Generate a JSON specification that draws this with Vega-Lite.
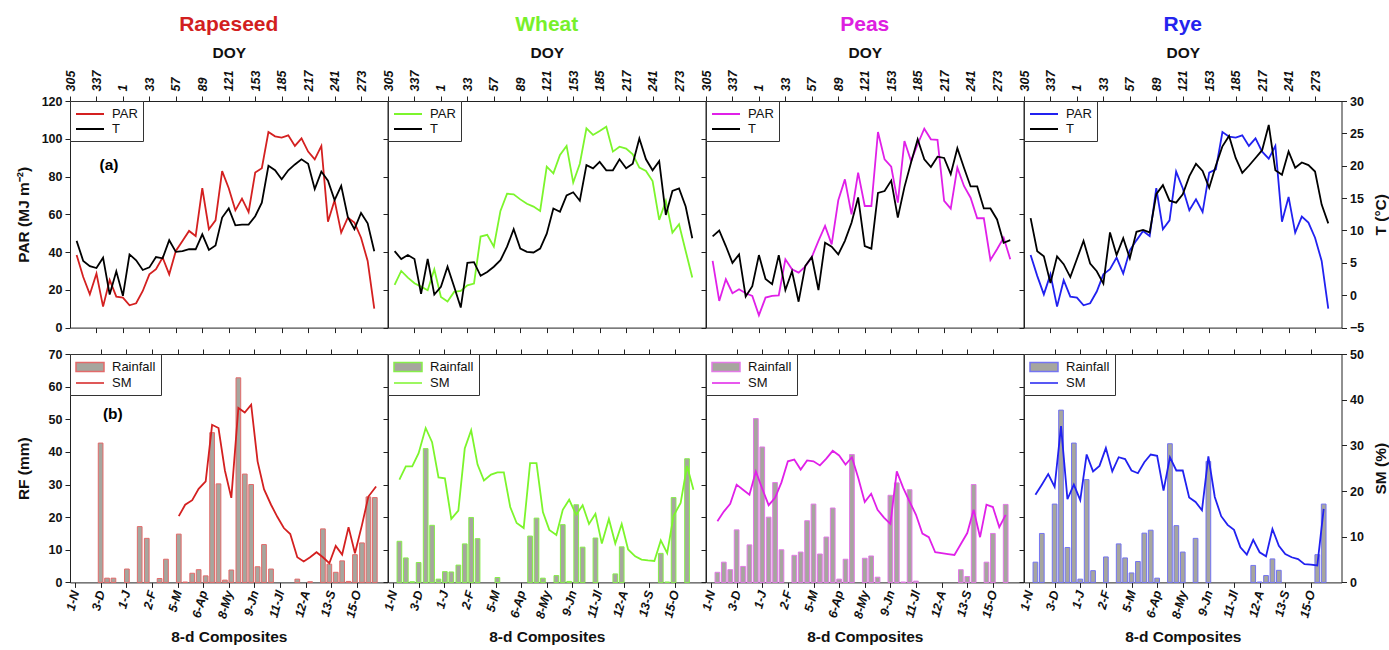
{
"$schema": "https://vega.github.io/schema/vega-lite/v6.json",
"padding": {"left": 15, "top": 13, "right": 0, "bottom": 0},
"config": {
  "font": "Liberation Sans",
  "view": {"stroke": "#222", "strokeWidth": 1},
  "axis": {"grid": false, "domain": false, "tickColor": "#222", "tickSize": 5, "labelPadding": 3, "labelOverlap": false, "labelFont": "Liberation Sans", "labelFontWeight": "bold", "labelFontSize": 12.5, "labelColor": "#111", "titleFont": "Liberation Sans", "titleFontWeight": "bold", "titleFontSize": 15.5, "titleColor": "#111"},
  "legend": {"orient": "top-left", "offset": 0, "strokeColor": "#333", "fillColor": "white", "padding": 5, "labelFont": "Liberation Sans", "labelFontSize": 13, "labelFontWeight": "normal", "labelColor": "#111", "rowPadding": 0, "labelOffset": 14, "symbolOffset": 7, "symbolSize": 196, "symbolStrokeWidth": 2},
  "title": {"font": "Liberation Sans", "fontWeight": "bold", "fontSize": 21, "anchor": "middle", "offset": 10}
},
"datasets": {
"top": [
{"crop":"Rapeseed","i":1,"par":38.5,"t":8.4},{"crop":"Rapeseed","i":2,"par":26.8,"t":5.3},{"crop":"Rapeseed","i":3,"par":17.6,"t":4.5},{"crop":"Rapeseed","i":4,"par":28.6,"t":4.2},{"crop":"Rapeseed","i":5,"par":11.1,"t":5.8},{"crop":"Rapeseed","i":6,"par":25.2,"t":0.1},{"crop":"Rapeseed","i":7,"par":16.4,"t":3.7},{"crop":"Rapeseed","i":8,"par":15.9,"t":-0.1},{"crop":"Rapeseed","i":9,"par":11.8,"t":6.3},{"crop":"Rapeseed","i":10,"par":12.9,"t":5.4},{"crop":"Rapeseed","i":11,"par":19.4,"t":3.9},{"crop":"Rapeseed","i":12,"par":28.2,"t":4.3},{"crop":"Rapeseed","i":13,"par":30.9,"t":5.9},{"crop":"Rapeseed","i":14,"par":37.1,"t":5.7},{"crop":"Rapeseed","i":15,"par":28.2,"t":8.5},{"crop":"Rapeseed","i":16,"par":40.6,"t":6.7},{"crop":"Rapeseed","i":17,"par":45.9,"t":6.8},{"crop":"Rapeseed","i":18,"par":51.2,"t":7.1},{"crop":"Rapeseed","i":19,"par":48.5,"t":7.1},{"crop":"Rapeseed","i":20,"par":73.8,"t":9.4},{"crop":"Rapeseed","i":21,"par":52.1,"t":7.0},{"crop":"Rapeseed","i":22,"par":56.8,"t":7.7},{"crop":"Rapeseed","i":23,"par":82.9,"t":12.0},{"crop":"Rapeseed","i":24,"par":73.8,"t":13.4},{"crop":"Rapeseed","i":25,"par":62.1,"t":10.8},{"crop":"Rapeseed","i":26,"par":68.3,"t":10.9},{"crop":"Rapeseed","i":27,"par":61.2,"t":10.9},{"crop":"Rapeseed","i":28,"par":82.1,"t":12.2},{"crop":"Rapeseed","i":29,"par":84.4,"t":14.3},{"crop":"Rapeseed","i":30,"par":103.6,"t":20.0},{"crop":"Rapeseed","i":31,"par":101.3,"t":19.3},{"crop":"Rapeseed","i":32,"par":100.6,"t":17.9},{"crop":"Rapeseed","i":33,"par":101.8,"t":19.3},{"crop":"Rapeseed","i":34,"par":96.2,"t":20.2},{"crop":"Rapeseed","i":35,"par":100.2,"t":21.0},{"crop":"Rapeseed","i":36,"par":93.2,"t":20.3},{"crop":"Rapeseed","i":37,"par":89.1,"t":16.4},{"crop":"Rapeseed","i":38,"par":96.2,"t":19.1},{"crop":"Rapeseed","i":39,"par":56.1,"t":17.7},{"crop":"Rapeseed","i":40,"par":67.4,"t":14.7},{"crop":"Rapeseed","i":41,"par":50.3,"t":16.9},{"crop":"Rapeseed","i":42,"par":58.2,"t":12.1},{"crop":"Rapeseed","i":43,"par":55.6,"t":10.2},{"crop":"Rapeseed","i":44,"par":47.6,"t":12.7},{"crop":"Rapeseed","i":45,"par":35.3,"t":11.1},{"crop":"Rapeseed","i":46,"par":10.1,"t":6.8},
{"crop":"Wheat","i":1,"par":22.6,"t":6.8},{"crop":"Wheat","i":2,"par":30.0,"t":5.6},{"crop":"Wheat","i":3,"par":26.5,"t":6.2},{"crop":"Wheat","i":4,"par":23.5,"t":5.6},{"crop":"Wheat","i":5,"par":21.7,"t":0.2},{"crop":"Wheat","i":6,"par":19.8,"t":5.6},{"crop":"Wheat","i":7,"par":30.9,"t":0.1},{"crop":"Wheat","i":8,"par":16.2,"t":1.3},{"crop":"Wheat","i":9,"par":13.8,"t":4.4},{"crop":"Wheat","i":10,"par":18.9,"t":1.3},{"crop":"Wheat","i":11,"par":19.4,"t":-1.9},{"crop":"Wheat","i":12,"par":22.4,"t":5.0},{"crop":"Wheat","i":13,"par":23.3,"t":5.1},{"crop":"Wheat","i":14,"par":48.2,"t":3.0},{"crop":"Wheat","i":15,"par":49.1,"t":3.6},{"crop":"Wheat","i":16,"par":42.9,"t":4.4},{"crop":"Wheat","i":17,"par":61.8,"t":5.4},{"crop":"Wheat","i":18,"par":70.9,"t":7.5},{"crop":"Wheat","i":19,"par":70.6,"t":10.2},{"crop":"Wheat","i":20,"par":67.9,"t":7.2},{"crop":"Wheat","i":21,"par":65.6,"t":6.7},{"crop":"Wheat","i":22,"par":64.1,"t":6.6},{"crop":"Wheat","i":23,"par":61.8,"t":7.2},{"crop":"Wheat","i":24,"par":85.2,"t":9.5},{"crop":"Wheat","i":25,"par":81.7,"t":13.4},{"crop":"Wheat","i":26,"par":91.4,"t":12.9},{"crop":"Wheat","i":27,"par":96.2,"t":15.4},{"crop":"Wheat","i":28,"par":76.8,"t":15.9},{"crop":"Wheat","i":29,"par":86.8,"t":14.6},{"crop":"Wheat","i":30,"par":105.5,"t":20.1},{"crop":"Wheat","i":31,"par":102.0,"t":19.6},{"crop":"Wheat","i":32,"par":104.1,"t":20.6},{"crop":"Wheat","i":33,"par":106.4,"t":19.3},{"crop":"Wheat","i":34,"par":93.2,"t":19.3},{"crop":"Wheat","i":35,"par":95.8,"t":21.0},{"crop":"Wheat","i":36,"par":94.8,"t":19.6},{"crop":"Wheat","i":37,"par":91.8,"t":20.3},{"crop":"Wheat","i":38,"par":84.7,"t":24.2},{"crop":"Wheat","i":39,"par":82.9,"t":21.0},{"crop":"Wheat","i":40,"par":77.6,"t":19.3},{"crop":"Wheat","i":41,"par":57.0,"t":20.7},{"crop":"Wheat","i":42,"par":67.1,"t":12.4},{"crop":"Wheat","i":43,"par":50.3,"t":16.1},{"crop":"Wheat","i":44,"par":54.7,"t":16.5},{"crop":"Wheat","i":45,"par":40.6,"t":13.7},{"crop":"Wheat","i":46,"par":26.5,"t":8.8},
{"crop":"Peas","i":1,"par":35.3,"t":9.1},{"crop":"Peas","i":2,"par":14.1,"t":10.0},{"crop":"Peas","i":3,"par":25.6,"t":7.6},{"crop":"Peas","i":4,"par":18.2,"t":5.0},{"crop":"Peas","i":5,"par":20.3,"t":6.3},{"crop":"Peas","i":6,"par":18.2,"t":-0.2},{"crop":"Peas","i":7,"par":16.8,"t":1.4},{"crop":"Peas","i":8,"par":6.5,"t":6.2},{"crop":"Peas","i":9,"par":15.9,"t":2.5},{"crop":"Peas","i":10,"par":16.8,"t":1.7},{"crop":"Peas","i":11,"par":17.1,"t":6.2},{"crop":"Peas","i":12,"par":36.2,"t":0.8},{"crop":"Peas","i":13,"par":30.9,"t":3.7},{"crop":"Peas","i":14,"par":29.1,"t":-1.0},{"crop":"Peas","i":15,"par":32.3,"t":4.5},{"crop":"Peas","i":16,"par":37.4,"t":5.9},{"crop":"Peas","i":17,"par":45.9,"t":0.8},{"crop":"Peas","i":18,"par":53.8,"t":8.1},{"crop":"Peas","i":19,"par":44.1,"t":7.5},{"crop":"Peas","i":20,"par":67.4,"t":6.3},{"crop":"Peas","i":21,"par":78.5,"t":8.4},{"crop":"Peas","i":22,"par":60.0,"t":11.2},{"crop":"Peas","i":23,"par":82.1,"t":15.1},{"crop":"Peas","i":24,"par":64.4,"t":7.6},{"crop":"Peas","i":25,"par":64.4,"t":7.2},{"crop":"Peas","i":26,"par":103.6,"t":15.8},{"crop":"Peas","i":27,"par":89.1,"t":16.1},{"crop":"Peas","i":28,"par":85.2,"t":17.7},{"crop":"Peas","i":29,"par":66.2,"t":12.0},{"crop":"Peas","i":30,"par":98.8,"t":16.7},{"crop":"Peas","i":31,"par":88.2,"t":20.5},{"crop":"Peas","i":32,"par":97.1,"t":24.1},{"crop":"Peas","i":33,"par":105.3,"t":21.0},{"crop":"Peas","i":34,"par":99.7,"t":19.8},{"crop":"Peas","i":35,"par":99.4,"t":21.4},{"crop":"Peas","i":36,"par":67.1,"t":21.2},{"crop":"Peas","i":37,"par":63.0,"t":18.7},{"crop":"Peas","i":38,"par":84.7,"t":22.7},{"crop":"Peas","i":39,"par":75.0,"t":19.7},{"crop":"Peas","i":40,"par":68.8,"t":16.8},{"crop":"Peas","i":41,"par":57.9,"t":16.8},{"crop":"Peas","i":42,"par":57.9,"t":13.4},{"crop":"Peas","i":43,"par":35.8,"t":13.4},{"crop":"Peas","i":44,"par":41.5,"t":11.7},{"crop":"Peas","i":45,"par":47.6,"t":8.1},{"crop":"Peas","i":46,"par":36.2,"t":8.5},
{"crop":"Rye","i":1,"par":38.5,"t":11.9},{"crop":"Rye","i":2,"par":27.4,"t":6.8},{"crop":"Rye","i":3,"par":17.6,"t":6.0},{"crop":"Rye","i":4,"par":28.2,"t":1.9},{"crop":"Rye","i":5,"par":11.1,"t":6.0},{"crop":"Rye","i":6,"par":25.1,"t":4.8},{"crop":"Rye","i":7,"par":16.4,"t":2.8},{"crop":"Rye","i":8,"par":15.9,"t":5.6},{"crop":"Rye","i":9,"par":11.8,"t":8.4},{"crop":"Rye","i":10,"par":12.9,"t":4.9},{"crop":"Rye","i":11,"par":19.1,"t":3.7},{"crop":"Rye","i":12,"par":28.2,"t":1.8},{"crop":"Rye","i":13,"par":30.9,"t":9.7},{"crop":"Rye","i":14,"par":37.1,"t":6.2},{"crop":"Rye","i":15,"par":28.6,"t":8.8},{"crop":"Rye","i":16,"par":40.9,"t":5.7},{"crop":"Rye","i":17,"par":46.2,"t":9.8},{"crop":"Rye","i":18,"par":51.2,"t":10.1},{"crop":"Rye","i":19,"par":48.5,"t":9.7},{"crop":"Rye","i":20,"par":73.8,"t":15.6},{"crop":"Rye","i":21,"par":52.1,"t":17.0},{"crop":"Rye","i":22,"par":56.8,"t":14.6},{"crop":"Rye","i":23,"par":82.6,"t":14.3},{"crop":"Rye","i":24,"par":73.8,"t":15.6},{"crop":"Rye","i":25,"par":62.1,"t":18.4},{"crop":"Rye","i":26,"par":67.9,"t":20.3},{"crop":"Rye","i":27,"par":61.2,"t":19.2},{"crop":"Rye","i":28,"par":82.1,"t":16.6},{"crop":"Rye","i":29,"par":83.8,"t":20.0},{"crop":"Rye","i":30,"par":103.6,"t":23.0},{"crop":"Rye","i":31,"par":101.1,"t":24.6},{"crop":"Rye","i":32,"par":100.6,"t":21.2},{"crop":"Rye","i":33,"par":101.8,"t":18.9},{"crop":"Rye","i":34,"par":96.2,"t":20.0},{"crop":"Rye","i":35,"par":100.2,"t":21.2},{"crop":"Rye","i":36,"par":93.2,"t":22.4},{"crop":"Rye","i":37,"par":89.5,"t":26.3},{"crop":"Rye","i":38,"par":96.2,"t":19.3},{"crop":"Rye","i":39,"par":56.1,"t":18.6},{"crop":"Rye","i":40,"par":69.2,"t":22.2},{"crop":"Rye","i":41,"par":50.3,"t":19.7},{"crop":"Rye","i":42,"par":58.8,"t":20.5},{"crop":"Rye","i":43,"par":55.6,"t":20.1},{"crop":"Rye","i":44,"par":47.6,"t":19.1},{"crop":"Rye","i":45,"par":35.3,"t":14.0},{"crop":"Rye","i":46,"par":10.1,"t":11.1}
],
"rain": [
{"crop":"Rapeseed","x":4.0,"rf":42.7},{"crop":"Rapeseed","x":5.0,"rf":1.3},{"crop":"Rapeseed","x":6.0,"rf":1.3},{"crop":"Rapeseed","x":8.1,"rf":4.1},{"crop":"Rapeseed","x":10.1,"rf":17.1},{"crop":"Rapeseed","x":11.2,"rf":13.5},{"crop":"Rapeseed","x":13.2,"rf":1.2},{"crop":"Rapeseed","x":14.2,"rf":7.1},{"crop":"Rapeseed","x":16.2,"rf":14.8},{"crop":"Rapeseed","x":17.2,"rf":0.1},{"crop":"Rapeseed","x":18.3,"rf":2.8},{"crop":"Rapeseed","x":19.3,"rf":3.9},{"crop":"Rapeseed","x":20.4,"rf":2.0},{"crop":"Rapeseed","x":21.4,"rf":45.9},{"crop":"Rapeseed","x":22.4,"rf":30.2},{"crop":"Rapeseed","x":23.4,"rf":0.7},{"crop":"Rapeseed","x":24.4,"rf":3.8},{"crop":"Rapeseed","x":25.5,"rf":62.7},{"crop":"Rapeseed","x":26.5,"rf":33.2},{"crop":"Rapeseed","x":27.5,"rf":30.0},{"crop":"Rapeseed","x":28.5,"rf":4.8},{"crop":"Rapeseed","x":29.5,"rf":11.6},{"crop":"Rapeseed","x":30.6,"rf":4.1},{"crop":"Rapeseed","x":34.7,"rf":1.0},{"crop":"Rapeseed","x":36.7,"rf":0.2},{"crop":"Rapeseed","x":38.7,"rf":16.4},{"crop":"Rapeseed","x":39.7,"rf":5.6},{"crop":"Rapeseed","x":40.7,"rf":3.1},{"crop":"Rapeseed","x":41.7,"rf":6.6},{"crop":"Rapeseed","x":42.7,"rf":0.3},{"crop":"Rapeseed","x":43.7,"rf":8.5},{"crop":"Rapeseed","x":44.8,"rf":12.1},{"crop":"Rapeseed","x":45.8,"rf":26.2},{"crop":"Rapeseed","x":46.8,"rf":26.0},
{"crop":"Wheat","x":1.0,"rf":12.6},{"crop":"Wheat","x":2.0,"rf":7.5},{"crop":"Wheat","x":3.0,"rf":0.2},{"crop":"Wheat","x":4.0,"rf":6.1},{"crop":"Wheat","x":5.1,"rf":41.0},{"crop":"Wheat","x":6.1,"rf":17.5},{"crop":"Wheat","x":7.1,"rf":1.0},{"crop":"Wheat","x":8.1,"rf":3.3},{"crop":"Wheat","x":9.1,"rf":3.2},{"crop":"Wheat","x":10.2,"rf":5.3},{"crop":"Wheat","x":11.2,"rf":11.8},{"crop":"Wheat","x":12.2,"rf":19.9},{"crop":"Wheat","x":13.2,"rf":13.4},{"crop":"Wheat","x":16.3,"rf":1.5},{"crop":"Wheat","x":21.4,"rf":14.2},{"crop":"Wheat","x":22.4,"rf":19.7},{"crop":"Wheat","x":23.4,"rf":1.3},{"crop":"Wheat","x":25.5,"rf":2.1},{"crop":"Wheat","x":26.5,"rf":17.7},{"crop":"Wheat","x":27.5,"rf":0.3},{"crop":"Wheat","x":28.6,"rf":23.8},{"crop":"Wheat","x":29.6,"rf":10.8},{"crop":"Wheat","x":31.6,"rf":13.6},{"crop":"Wheat","x":34.7,"rf":2.6},{"crop":"Wheat","x":35.7,"rf":10.9},{"crop":"Wheat","x":41.8,"rf":8.9},{"crop":"Wheat","x":42.8,"rf":0.1},{"crop":"Wheat","x":43.8,"rf":26.0},{"crop":"Wheat","x":45.9,"rf":37.9},
{"crop":"Peas","x":1,"rf":3.1},{"crop":"Peas","x":2,"rf":6.2},{"crop":"Peas","x":3,"rf":3.9},{"crop":"Peas","x":4,"rf":16.1},{"crop":"Peas","x":5,"rf":4.9},{"crop":"Peas","x":6,"rf":11.5},{"crop":"Peas","x":7,"rf":50.2},{"crop":"Peas","x":8,"rf":41.5},{"crop":"Peas","x":9,"rf":20.0},{"crop":"Peas","x":10,"rf":30.6},{"crop":"Peas","x":11,"rf":10.0},{"crop":"Peas","x":13,"rf":8.3},{"crop":"Peas","x":14,"rf":9.3},{"crop":"Peas","x":15,"rf":18.9},{"crop":"Peas","x":16,"rf":24.0},{"crop":"Peas","x":17,"rf":8.7},{"crop":"Peas","x":18,"rf":13.9},{"crop":"Peas","x":19,"rf":22.8},{"crop":"Peas","x":20,"rf":1.0},{"crop":"Peas","x":21,"rf":7.1},{"crop":"Peas","x":22,"rf":39.2},{"crop":"Peas","x":24,"rf":7.4},{"crop":"Peas","x":25,"rf":8.1},{"crop":"Peas","x":26,"rf":1.6},{"crop":"Peas","x":28,"rf":26.7},{"crop":"Peas","x":29,"rf":30.5},{"crop":"Peas","x":30,"rf":0.1},{"crop":"Peas","x":31,"rf":28.4},{"crop":"Peas","x":32,"rf":0.4},{"crop":"Peas","x":39,"rf":3.9},{"crop":"Peas","x":40,"rf":1.8},{"crop":"Peas","x":41,"rf":30.0},{"crop":"Peas","x":43,"rf":6.2},{"crop":"Peas","x":44,"rf":15.0},{"crop":"Peas","x":46,"rf":23.9},
{"crop":"Rye","x":1,"rf":6.2},{"crop":"Rye","x":2,"rf":15.0},{"crop":"Rye","x":4,"rf":24.0},{"crop":"Rye","x":5,"rf":52.8},{"crop":"Rye","x":6,"rf":10.7},{"crop":"Rye","x":7,"rf":42.7},{"crop":"Rye","x":8,"rf":1.0},{"crop":"Rye","x":9,"rf":31.5},{"crop":"Rye","x":10,"rf":3.6},{"crop":"Rye","x":12,"rf":7.8},{"crop":"Rye","x":14,"rf":11.8},{"crop":"Rye","x":15,"rf":7.5},{"crop":"Rye","x":16,"rf":2.9},{"crop":"Rye","x":17,"rf":6.4},{"crop":"Rye","x":18,"rf":15.1},{"crop":"Rye","x":19,"rf":16.0},{"crop":"Rye","x":20,"rf":1.3},{"crop":"Rye","x":22,"rf":42.5},{"crop":"Rye","x":23,"rf":17.4},{"crop":"Rye","x":24,"rf":9.3},{"crop":"Rye","x":26,"rf":13.5},{"crop":"Rye","x":28,"rf":37.1},{"crop":"Rye","x":35,"rf":5.2},{"crop":"Rye","x":36,"rf":0.1},{"crop":"Rye","x":37,"rf":2.1},{"crop":"Rye","x":38,"rf":7.2},{"crop":"Rye","x":39,"rf":3.7},{"crop":"Rye","x":45,"rf":8.5},{"crop":"Rye","x":46,"rf":24.0}
],
"sm": [
{"crop":"Rapeseed","x":16.2,"sm":14.5},{"crop":"Rapeseed","x":17.2,"sm":17.0},{"crop":"Rapeseed","x":18.3,"sm":18.0},{"crop":"Rapeseed","x":19.3,"sm":20.5},{"crop":"Rapeseed","x":20.4,"sm":22.1},{"crop":"Rapeseed","x":21.4,"sm":34.5},{"crop":"Rapeseed","x":22.4,"sm":33.8},{"crop":"Rapeseed","x":23.4,"sm":24.5},{"crop":"Rapeseed","x":24.4,"sm":18.5},{"crop":"Rapeseed","x":25.5,"sm":38.2},{"crop":"Rapeseed","x":26.5,"sm":37.2},{"crop":"Rapeseed","x":27.5,"sm":38.9},{"crop":"Rapeseed","x":28.5,"sm":26.5},{"crop":"Rapeseed","x":29.5,"sm":20.4},{"crop":"Rapeseed","x":30.6,"sm":17.0},{"crop":"Rapeseed","x":31.6,"sm":14.3},{"crop":"Rapeseed","x":32.6,"sm":11.9},{"crop":"Rapeseed","x":33.6,"sm":10.6},{"crop":"Rapeseed","x":34.7,"sm":5.5},{"crop":"Rapeseed","x":35.7,"sm":4.6},{"crop":"Rapeseed","x":36.7,"sm":5.5},{"crop":"Rapeseed","x":37.7,"sm":6.6},{"crop":"Rapeseed","x":38.7,"sm":5.5},{"crop":"Rapeseed","x":39.7,"sm":4.2},{"crop":"Rapeseed","x":40.7,"sm":8.0},{"crop":"Rapeseed","x":41.7,"sm":6.1},{"crop":"Rapeseed","x":42.7,"sm":12.1},{"crop":"Rapeseed","x":43.7,"sm":6.4},{"crop":"Rapeseed","x":44.8,"sm":12.6},{"crop":"Rapeseed","x":45.8,"sm":18.8},{"crop":"Rapeseed","x":47.0,"sm":21.0},
{"crop":"Wheat","x":1.0,"sm":22.5},{"crop":"Wheat","x":2.0,"sm":25.4},{"crop":"Wheat","x":3.0,"sm":25.4},{"crop":"Wheat","x":4.0,"sm":28.3},{"crop":"Wheat","x":5.1,"sm":33.8},{"crop":"Wheat","x":6.1,"sm":30.7},{"crop":"Wheat","x":7.1,"sm":23.0},{"crop":"Wheat","x":8.1,"sm":22.8},{"crop":"Wheat","x":9.1,"sm":13.9},{"crop":"Wheat","x":10.2,"sm":15.7},{"crop":"Wheat","x":11.2,"sm":29.3},{"crop":"Wheat","x":12.2,"sm":33.3},{"crop":"Wheat","x":13.2,"sm":25.8},{"crop":"Wheat","x":14.2,"sm":22.3},{"crop":"Wheat","x":15.3,"sm":23.6},{"crop":"Wheat","x":16.3,"sm":24.1},{"crop":"Wheat","x":17.3,"sm":24.1},{"crop":"Wheat","x":18.3,"sm":16.5},{"crop":"Wheat","x":19.3,"sm":13.0},{"crop":"Wheat","x":20.4,"sm":11.9},{"crop":"Wheat","x":21.4,"sm":26.1},{"crop":"Wheat","x":22.4,"sm":26.1},{"crop":"Wheat","x":23.4,"sm":15.4},{"crop":"Wheat","x":24.4,"sm":11.5},{"crop":"Wheat","x":25.5,"sm":10.4},{"crop":"Wheat","x":26.5,"sm":15.9},{"crop":"Wheat","x":27.5,"sm":18.1},{"crop":"Wheat","x":28.6,"sm":14.8},{"crop":"Wheat","x":29.6,"sm":16.9},{"crop":"Wheat","x":30.6,"sm":12.8},{"crop":"Wheat","x":31.6,"sm":15.0},{"crop":"Wheat","x":32.6,"sm":8.5},{"crop":"Wheat","x":33.7,"sm":13.9},{"crop":"Wheat","x":34.7,"sm":8.5},{"crop":"Wheat","x":35.7,"sm":12.8},{"crop":"Wheat","x":36.7,"sm":7.2},{"crop":"Wheat","x":37.8,"sm":5.7},{"crop":"Wheat","x":38.8,"sm":5.0},{"crop":"Wheat","x":39.8,"sm":4.8},{"crop":"Wheat","x":40.8,"sm":4.7},{"crop":"Wheat","x":41.8,"sm":9.2},{"crop":"Wheat","x":42.8,"sm":6.4},{"crop":"Wheat","x":43.8,"sm":14.6},{"crop":"Wheat","x":44.9,"sm":17.4},{"crop":"Wheat","x":45.9,"sm":25.5},{"crop":"Wheat","x":46.9,"sm":20.3},
{"crop":"Peas","x":1,"sm":13.4},{"crop":"Peas","x":2,"sm":15.5},{"crop":"Peas","x":3,"sm":17.2},{"crop":"Peas","x":4,"sm":21.4},{"crop":"Peas","x":5,"sm":20.3},{"crop":"Peas","x":6,"sm":19.2},{"crop":"Peas","x":7,"sm":24.3},{"crop":"Peas","x":8,"sm":20.5},{"crop":"Peas","x":9,"sm":16.9},{"crop":"Peas","x":10,"sm":18.5},{"crop":"Peas","x":11,"sm":21.9},{"crop":"Peas","x":12,"sm":26.5},{"crop":"Peas","x":13,"sm":26.9},{"crop":"Peas","x":14,"sm":24.7},{"crop":"Peas","x":15,"sm":26.7},{"crop":"Peas","x":16,"sm":26.5},{"crop":"Peas","x":17,"sm":25.6},{"crop":"Peas","x":18,"sm":27.1},{"crop":"Peas","x":19,"sm":28.8},{"crop":"Peas","x":20,"sm":27.8},{"crop":"Peas","x":21,"sm":25.8},{"crop":"Peas","x":22,"sm":27.4},{"crop":"Peas","x":23,"sm":22.8},{"crop":"Peas","x":24,"sm":17.6},{"crop":"Peas","x":25,"sm":19.4},{"crop":"Peas","x":26,"sm":15.9},{"crop":"Peas","x":27,"sm":14.2},{"crop":"Peas","x":28,"sm":12.8},{"crop":"Peas","x":29,"sm":24.3},{"crop":"Peas","x":30,"sm":20.7},{"crop":"Peas","x":31,"sm":17.7},{"crop":"Peas","x":32,"sm":14.8},{"crop":"Peas","x":33,"sm":10.7},{"crop":"Peas","x":34,"sm":9.9},{"crop":"Peas","x":35,"sm":6.6},{"crop":"Peas","x":36,"sm":6.4},{"crop":"Peas","x":37,"sm":6.2},{"crop":"Peas","x":38,"sm":6.0},{"crop":"Peas","x":39,"sm":8.4},{"crop":"Peas","x":40,"sm":10.8},{"crop":"Peas","x":41,"sm":15.9},{"crop":"Peas","x":42,"sm":9.9},{"crop":"Peas","x":43,"sm":17.0},{"crop":"Peas","x":44,"sm":16.5},{"crop":"Peas","x":45,"sm":12.1},{"crop":"Peas","x":46,"sm":14.8},
{"crop":"Rye","x":1,"sm":19.2},{"crop":"Rye","x":2,"sm":21.4},{"crop":"Rye","x":3,"sm":23.7},{"crop":"Rye","x":4,"sm":20.9},{"crop":"Rye","x":5,"sm":34.2},{"crop":"Rye","x":6,"sm":18.2},{"crop":"Rye","x":7,"sm":21.4},{"crop":"Rye","x":8,"sm":18.0},{"crop":"Rye","x":9,"sm":28.0},{"crop":"Rye","x":10,"sm":24.3},{"crop":"Rye","x":11,"sm":25.5},{"crop":"Rye","x":12,"sm":29.4},{"crop":"Rye","x":13,"sm":24.3},{"crop":"Rye","x":14,"sm":27.4},{"crop":"Rye","x":15,"sm":27.0},{"crop":"Rye","x":16,"sm":24.5},{"crop":"Rye","x":17,"sm":23.9},{"crop":"Rye","x":18,"sm":26.3},{"crop":"Rye","x":19,"sm":28.0},{"crop":"Rye","x":20,"sm":27.7},{"crop":"Rye","x":21,"sm":20.1},{"crop":"Rye","x":22,"sm":27.4},{"crop":"Rye","x":23,"sm":24.5},{"crop":"Rye","x":24,"sm":24.5},{"crop":"Rye","x":25,"sm":18.6},{"crop":"Rye","x":26,"sm":17.6},{"crop":"Rye","x":27,"sm":15.8},{"crop":"Rye","x":28,"sm":27.6},{"crop":"Rye","x":29,"sm":18.7},{"crop":"Rye","x":30,"sm":14.5},{"crop":"Rye","x":31,"sm":12.6},{"crop":"Rye","x":32,"sm":11.5},{"crop":"Rye","x":33,"sm":7.7},{"crop":"Rye","x":34,"sm":6.1},{"crop":"Rye","x":35,"sm":9.3},{"crop":"Rye","x":36,"sm":6.6},{"crop":"Rye","x":37,"sm":5.7},{"crop":"Rye","x":38,"sm":11.7},{"crop":"Rye","x":39,"sm":8.0},{"crop":"Rye","x":40,"sm":6.2},{"crop":"Rye","x":41,"sm":5.5},{"crop":"Rye","x":42,"sm":5.1},{"crop":"Rye","x":43,"sm":4.0},{"crop":"Rye","x":44,"sm":3.9},{"crop":"Rye","x":45,"sm":3.7},{"crop":"Rye","x":46,"sm":16.1}
]
},
"spacing": 12,
"resolve": {"scale": {"color": "independent", "fill": "independent", "stroke": "independent", "shape": "independent"}, "legend": {"color": "independent", "fill": "independent", "stroke": "independent", "shape": "independent"}},
"vconcat": [
{"hconcat": [
 {"width": 317.5, "height": 226.6, "title": {"text": "Rapeseed", "color": "#d21f1f"},
  "layer": [
   {"data": {"name": "top"}, "transform": [{"filter": "datum.crop === 'Rapeseed'"}],
    "mark": {"type": "line", "strokeWidth": 1.8},
    "encoding": {
     "x": {"field": "i", "type": "quantitative", "scale": {"domain": [0, 48], "nice": false}, "axis": {"orient": "top", "values": [0,4,8,12,16,20,24,28,32,36,40,44], "labelExpr": "['305','337','1','33','57','89','121','153','185','217','241','273'][round(datum.value/4)]", "labelAngle": -90, "labelOverlap": false, "labelPadding": 5, "labelFontStyle": "italic", "title": "DOY", "titlePadding": 10}},
     "y": {"field": "par", "type": "quantitative", "scale": {"domain": [0, 120], "nice": false}, "axis": {"values": [0,20,40,60,80,100,120], "labelOverlap": false, "title": "PAR (MJ m⁻²)", "titlePadding": 10}},
     "color": {"datum": "PAR", "scale": {"domain": ["PAR", "T"], "range": ["#d42020", "#000000"]}, "legend": {"title": null, "symbolType": "M-2,0H2"}}
    }},
   {"data": {"name": "top"}, "transform": [{"filter": "datum.crop === 'Rapeseed'"}],
    "mark": {"type": "line", "strokeWidth": 1.8},
    "encoding": {
     "x": {"field": "i", "type": "quantitative", "scale": {"domain": [0, 48], "nice": false}, "axis": {"orient": "bottom", "values": [4,8,12,16,20,24,28,32,36,40,44], "labels": false, "title": null}},
     "y": {"field": "t", "type": "quantitative", "scale": {"domain": [-5, 30], "nice": false}, "axis": null},
     "color": {"datum": "T"}
    }},
   {"data": {"values": [{}]}, "mark": {"type": "text", "text": "(a)", "fontSize": 15.5, "fontWeight": "bold", "font": "Liberation Sans"},
    "encoding": {"x": {"datum": 5.9, "type": "quantitative", "axis": null}, "y": {"datum": 86, "type": "quantitative", "scale": {"domain": [0, 120], "nice": false}, "axis": null}}}
  ],
  "resolve": {"scale": {"y": "independent"}, "axis": {"x": "independent", "y": "independent"}}
 },
 {"width": 317.5, "height": 226.6, "title": {"text": "Wheat", "color": "#78f02a"},
  "layer": [
   {"data": {"name": "top"}, "transform": [{"filter": "datum.crop === 'Wheat'"}],
    "mark": {"type": "line", "strokeWidth": 1.8},
    "encoding": {
     "x": {"field": "i", "type": "quantitative", "scale": {"domain": [0, 48], "nice": false}, "axis": {"orient": "top", "values": [0,4,8,12,16,20,24,28,32,36,40,44], "labelExpr": "['305','337','1','33','57','89','121','153','185','217','241','273'][round(datum.value/4)]", "labelAngle": -90, "labelOverlap": false, "labelPadding": 5, "labelFontStyle": "italic", "title": "DOY", "titlePadding": 10}},
     "y": {"field": "par", "type": "quantitative", "scale": {"domain": [0, 120], "nice": false}, "axis": {"values": [0,20,40,60,80,100,120], "labels": false, "title": null}},
     "color": {"datum": "PAR", "scale": {"domain": ["PAR", "T"], "range": ["#7cf52c", "#000000"]}, "legend": {"title": null, "symbolType": "M-2,0H2"}}
    }},
   {"data": {"name": "top"}, "transform": [{"filter": "datum.crop === 'Wheat'"}],
    "mark": {"type": "line", "strokeWidth": 1.8},
    "encoding": {
     "x": {"field": "i", "type": "quantitative", "scale": {"domain": [0, 48], "nice": false}, "axis": {"orient": "bottom", "values": [4,8,12,16,20,24,28,32,36,40,44], "labels": false, "title": null}},
     "y": {"field": "t", "type": "quantitative", "scale": {"domain": [-5, 30], "nice": false}, "axis": null},
     "color": {"datum": "T"}
    }}
  ],
  "resolve": {"scale": {"y": "independent"}, "axis": {"x": "independent", "y": "independent"}}
 },
 {"width": 317.5, "height": 226.6, "title": {"text": "Peas", "color": "#dd20e0"},
  "layer": [
   {"data": {"name": "top"}, "transform": [{"filter": "datum.crop === 'Peas'"}],
    "mark": {"type": "line", "strokeWidth": 1.8},
    "encoding": {
     "x": {"field": "i", "type": "quantitative", "scale": {"domain": [0, 48], "nice": false}, "axis": {"orient": "top", "values": [0,4,8,12,16,20,24,28,32,36,40,44], "labelExpr": "['305','337','1','33','57','89','121','153','185','217','241','273'][round(datum.value/4)]", "labelAngle": -90, "labelOverlap": false, "labelPadding": 5, "labelFontStyle": "italic", "title": "DOY", "titlePadding": 10}},
     "y": {"field": "par", "type": "quantitative", "scale": {"domain": [0, 120], "nice": false}, "axis": {"values": [0,20,40,60,80,100,120], "labels": false, "title": null}},
     "color": {"datum": "PAR", "scale": {"domain": ["PAR", "T"], "range": ["#e020e8", "#000000"]}, "legend": {"title": null, "symbolType": "M-2,0H2"}}
    }},
   {"data": {"name": "top"}, "transform": [{"filter": "datum.crop === 'Peas'"}],
    "mark": {"type": "line", "strokeWidth": 1.8},
    "encoding": {
     "x": {"field": "i", "type": "quantitative", "scale": {"domain": [0, 48], "nice": false}, "axis": {"orient": "bottom", "values": [4,8,12,16,20,24,28,32,36,40,44], "labels": false, "title": null}},
     "y": {"field": "t", "type": "quantitative", "scale": {"domain": [-5, 30], "nice": false}, "axis": null},
     "color": {"datum": "T"}
    }}
  ],
  "resolve": {"scale": {"y": "independent"}, "axis": {"x": "independent", "y": "independent"}}
 },
 {"width": 317.5, "height": 226.6, "title": {"text": "Rye", "color": "#2424ee"},
  "layer": [
   {"data": {"name": "top"}, "transform": [{"filter": "datum.crop === 'Rye'"}],
    "mark": {"type": "line", "strokeWidth": 1.8},
    "encoding": {
     "x": {"field": "i", "type": "quantitative", "scale": {"domain": [0, 48], "nice": false}, "axis": {"orient": "top", "values": [0,4,8,12,16,20,24,28,32,36,40,44], "labelExpr": "['305','337','1','33','57','89','121','153','185','217','241','273'][round(datum.value/4)]", "labelAngle": -90, "labelOverlap": false, "labelPadding": 5, "labelFontStyle": "italic", "title": "DOY", "titlePadding": 10}},
     "y": {"field": "par", "type": "quantitative", "scale": {"domain": [0, 120], "nice": false}, "axis": {"values": [0,20,40,60,80,100,120], "labels": false, "title": null}},
     "color": {"datum": "PAR", "scale": {"domain": ["PAR", "T"], "range": ["#2121f0", "#000000"]}, "legend": {"title": null, "symbolType": "M-2,0H2"}}
    }},
   {"data": {"name": "top"}, "transform": [{"filter": "datum.crop === 'Rye'"}],
    "mark": {"type": "line", "strokeWidth": 1.8},
    "encoding": {
     "x": {"field": "i", "type": "quantitative", "scale": {"domain": [0, 48], "nice": false}, "axis": {"orient": "bottom", "values": [4,8,12,16,20,24,28,32,36,40,44], "labels": false, "title": null}},
     "y": {"field": "t", "type": "quantitative", "scale": {"domain": [-5, 30], "nice": false}, "axis": {"orient": "right", "values": [-5,0,5,10,15,20,25,30], "labelOverlap": false, "title": "T (°C)", "titleAngle": 270, "titlePadding": 25}},
     "color": {"datum": "T"}
    }}
  ],
  "resolve": {"scale": {"y": "independent"}, "axis": {"x": "independent", "y": "independent"}}
 }
], "spacing": 0, "bounds": "flush", "resolve": {"scale": {"color": "independent"}, "legend": {"color": "independent"}}},
{"hconcat": [
 {"width": 317.5, "height": 228.4,
  "layer": [
   {"data": {"name": "rain"}, "transform": [{"filter": "datum.crop === 'Rapeseed'"}],
    "mark": {"type": "bar", "orient": "vertical", "width": 4.7, "stroke": "#e36a6a", "strokeWidth": 1},
    "encoding": {
     "x": {"field": "x", "type": "quantitative", "scale": {"domain": [0, 48], "nice": false}, "axis": {"orient": "bottom", "values": [0,4,8,12,16,20,24,28,32,36,40,44], "labelExpr": "['1-N','3-D','1-J','2-F','5-M','6-Ap','8-My','9-Jn','11-Jl','12-A','13-S','15-O'][round(datum.value/4)]", "labelAngle": -75, "labelOverlap": false, "labelFontStyle": "italic", "title": "8-d Composites", "titlePadding": 10}},
     "y": {"field": "rf", "type": "quantitative", "scale": {"domain": [0, 70], "nice": false}, "axis": {"values": [0,10,20,30,40,50,60,70], "labelOverlap": false, "title": "RF (mm)", "titlePadding": 17}},
     "fill": {"datum": "Rainfall", "type": "nominal", "scale": {"domain": ["Rainfall", "SM"], "range": ["#a6a69e", "transparent"]}, "legend": {"title": null, "symbolStrokeWidth": 1.5}}
    }},
   {"data": {"values": [{}]}, "mark": {"type": "text", "text": "(b)", "fontSize": 15.5, "fontWeight": "bold", "font": "Liberation Sans"},
    "encoding": {"x": {"datum": 5.9, "type": "quantitative", "axis": null}, "y": {"datum": 51.7, "type": "quantitative", "scale": {"domain": [0, 70], "nice": false}, "axis": null}}},
   {"data": {"name": "rain"}, "transform": [{"filter": "false"}],
    "mark": {"type": "point", "opacity": 1},
    "encoding": {"shape": {"datum": "Rainfall", "type": "nominal", "scale": {"domain": ["Rainfall", "SM"], "range": ["M-2,-0.65H2V0.65H-2Z", "M-2,0H2"]}, "legend": {"title": null, "symbolStrokeWidth": 1.5}}}},
   {"data": {"name": "sm"}, "transform": [{"filter": "datum.crop === 'Rapeseed'"}],
    "mark": {"type": "line", "strokeWidth": 1.8},
    "encoding": {
     "x": {"field": "x", "type": "quantitative", "scale": {"domain": [0, 48], "nice": false}, "axis": {"orient": "top", "values": [4,8,12,16,20,24,28,32,36,40,44], "labels": false, "title": null}},
     "y": {"field": "sm", "type": "quantitative", "scale": {"domain": [0, 50], "nice": false}, "axis": null},
     "stroke": {"datum": "SM", "type": "nominal", "scale": {"domain": ["Rainfall", "SM"], "range": ["#e36a6a", "#d42020"]}, "legend": {"title": null, "symbolStrokeWidth": 1.5}}
    }}
  ],
  "resolve": {"scale": {"y": "independent"}, "axis": {"x": "independent", "y": "independent"}}
 },
 {"width": 317.5, "height": 228.4,
  "layer": [
   {"data": {"name": "rain"}, "transform": [{"filter": "datum.crop === 'Wheat'"}],
    "mark": {"type": "bar", "orient": "vertical", "width": 4.7, "stroke": "#86ef4a", "strokeWidth": 1},
    "encoding": {
     "x": {"field": "x", "type": "quantitative", "scale": {"domain": [0, 48], "nice": false}, "axis": {"orient": "bottom", "values": [0,4,8,12,16,20,24,28,32,36,40,44], "labelExpr": "['1-N','3-D','1-J','2-F','5-M','6-Ap','8-My','9-Jn','11-Jl','12-A','13-S','15-O'][round(datum.value/4)]", "labelAngle": -75, "labelOverlap": false, "labelFontStyle": "italic", "title": "8-d Composites", "titlePadding": 10}},
     "y": {"field": "rf", "type": "quantitative", "scale": {"domain": [0, 70], "nice": false}, "axis": {"values": [0,10,20,30,40,50,60,70], "labels": false, "title": null}},
     "fill": {"datum": "Rainfall", "type": "nominal", "scale": {"domain": ["Rainfall", "SM"], "range": ["#a6a69e", "transparent"]}, "legend": {"title": null, "symbolStrokeWidth": 1.5}}
    }},
   {"data": {"name": "rain"}, "transform": [{"filter": "false"}],
    "mark": {"type": "point", "opacity": 1},
    "encoding": {"shape": {"datum": "Rainfall", "type": "nominal", "scale": {"domain": ["Rainfall", "SM"], "range": ["M-2,-0.65H2V0.65H-2Z", "M-2,0H2"]}, "legend": {"title": null, "symbolStrokeWidth": 1.5}}}},
   {"data": {"name": "sm"}, "transform": [{"filter": "datum.crop === 'Wheat'"}],
    "mark": {"type": "line", "strokeWidth": 1.8},
    "encoding": {
     "x": {"field": "x", "type": "quantitative", "scale": {"domain": [0, 48], "nice": false}, "axis": {"orient": "top", "values": [4,8,12,16,20,24,28,32,36,40,44], "labels": false, "title": null}},
     "y": {"field": "sm", "type": "quantitative", "scale": {"domain": [0, 50], "nice": false}, "axis": null},
     "stroke": {"datum": "SM", "type": "nominal", "scale": {"domain": ["Rainfall", "SM"], "range": ["#86ef4a", "#7cf52c"]}, "legend": {"title": null, "symbolStrokeWidth": 1.5}}
    }}
  ],
  "resolve": {"scale": {"y": "independent"}, "axis": {"x": "independent", "y": "independent"}}
 },
 {"width": 317.5, "height": 228.4,
  "layer": [
   {"data": {"name": "rain"}, "transform": [{"filter": "datum.crop === 'Peas'"}],
    "mark": {"type": "bar", "orient": "vertical", "width": 4.7, "stroke": "#e27ae6", "strokeWidth": 1},
    "encoding": {
     "x": {"field": "x", "type": "quantitative", "scale": {"domain": [0, 48], "nice": false}, "axis": {"orient": "bottom", "values": [0,4,8,12,16,20,24,28,32,36,40,44], "labelExpr": "['1-N','3-D','1-J','2-F','5-M','6-Ap','8-My','9-Jn','11-Jl','12-A','13-S','15-O'][round(datum.value/4)]", "labelAngle": -75, "labelOverlap": false, "labelFontStyle": "italic", "title": "8-d Composites", "titlePadding": 10}},
     "y": {"field": "rf", "type": "quantitative", "scale": {"domain": [0, 70], "nice": false}, "axis": {"values": [0,10,20,30,40,50,60,70], "labels": false, "title": null}},
     "fill": {"datum": "Rainfall", "type": "nominal", "scale": {"domain": ["Rainfall", "SM"], "range": ["#a6a69e", "transparent"]}, "legend": {"title": null, "symbolStrokeWidth": 1.5}}
    }},
   {"data": {"name": "rain"}, "transform": [{"filter": "false"}],
    "mark": {"type": "point", "opacity": 1},
    "encoding": {"shape": {"datum": "Rainfall", "type": "nominal", "scale": {"domain": ["Rainfall", "SM"], "range": ["M-2,-0.65H2V0.65H-2Z", "M-2,0H2"]}, "legend": {"title": null, "symbolStrokeWidth": 1.5}}}},
   {"data": {"name": "sm"}, "transform": [{"filter": "datum.crop === 'Peas'"}],
    "mark": {"type": "line", "strokeWidth": 1.8},
    "encoding": {
     "x": {"field": "x", "type": "quantitative", "scale": {"domain": [0, 48], "nice": false}, "axis": {"orient": "top", "values": [4,8,12,16,20,24,28,32,36,40,44], "labels": false, "title": null}},
     "y": {"field": "sm", "type": "quantitative", "scale": {"domain": [0, 50], "nice": false}, "axis": null},
     "stroke": {"datum": "SM", "type": "nominal", "scale": {"domain": ["Rainfall", "SM"], "range": ["#e27ae6", "#e020e8"]}, "legend": {"title": null, "symbolStrokeWidth": 1.5}}
    }}
  ],
  "resolve": {"scale": {"y": "independent"}, "axis": {"x": "independent", "y": "independent"}}
 },
 {"width": 317.5, "height": 228.4,
  "layer": [
   {"data": {"name": "rain"}, "transform": [{"filter": "datum.crop === 'Rye'"}],
    "mark": {"type": "bar", "orient": "vertical", "width": 4.7, "stroke": "#7474f2", "strokeWidth": 1},
    "encoding": {
     "x": {"field": "x", "type": "quantitative", "scale": {"domain": [0, 48], "nice": false}, "axis": {"orient": "bottom", "values": [0,4,8,12,16,20,24,28,32,36,40,44], "labelExpr": "['1-N','3-D','1-J','2-F','5-M','6-Ap','8-My','9-Jn','11-Jl','12-A','13-S','15-O'][round(datum.value/4)]", "labelAngle": -75, "labelOverlap": false, "labelFontStyle": "italic", "title": "8-d Composites", "titlePadding": 10}},
     "y": {"field": "rf", "type": "quantitative", "scale": {"domain": [0, 70], "nice": false}, "axis": {"values": [0,10,20,30,40,50,60,70], "labels": false, "title": null}},
     "fill": {"datum": "Rainfall", "type": "nominal", "scale": {"domain": ["Rainfall", "SM"], "range": ["#a6a69e", "transparent"]}, "legend": {"title": null, "symbolStrokeWidth": 1.5}}
    }},
   {"data": {"name": "rain"}, "transform": [{"filter": "false"}],
    "mark": {"type": "point", "opacity": 1},
    "encoding": {"shape": {"datum": "Rainfall", "type": "nominal", "scale": {"domain": ["Rainfall", "SM"], "range": ["M-2,-0.65H2V0.65H-2Z", "M-2,0H2"]}, "legend": {"title": null, "symbolStrokeWidth": 1.5}}}},
   {"data": {"name": "sm"}, "transform": [{"filter": "datum.crop === 'Rye'"}],
    "mark": {"type": "line", "strokeWidth": 1.8},
    "encoding": {
     "x": {"field": "x", "type": "quantitative", "scale": {"domain": [0, 48], "nice": false}, "axis": {"orient": "top", "values": [4,8,12,16,20,24,28,32,36,40,44], "labels": false, "title": null}},
     "y": {"field": "sm", "type": "quantitative", "scale": {"domain": [0, 50], "nice": false}, "axis": {"orient": "right", "values": [0,10,20,30,40,50], "labelOverlap": false, "title": "SM (%)", "titleAngle": 270, "titlePadding": 25}},
     "stroke": {"datum": "SM", "type": "nominal", "scale": {"domain": ["Rainfall", "SM"], "range": ["#7474f2", "#2121f0"]}, "legend": {"title": null, "symbolStrokeWidth": 1.5}}
    }}
  ],
  "resolve": {"scale": {"y": "independent"}, "axis": {"x": "independent", "y": "independent"}}
 }
], "spacing": 0, "bounds": "flush", "resolve": {"scale": {"fill": "independent", "stroke": "independent", "shape": "independent"}, "legend": {"fill": "independent", "stroke": "independent", "shape": "independent"}}}
]
}
